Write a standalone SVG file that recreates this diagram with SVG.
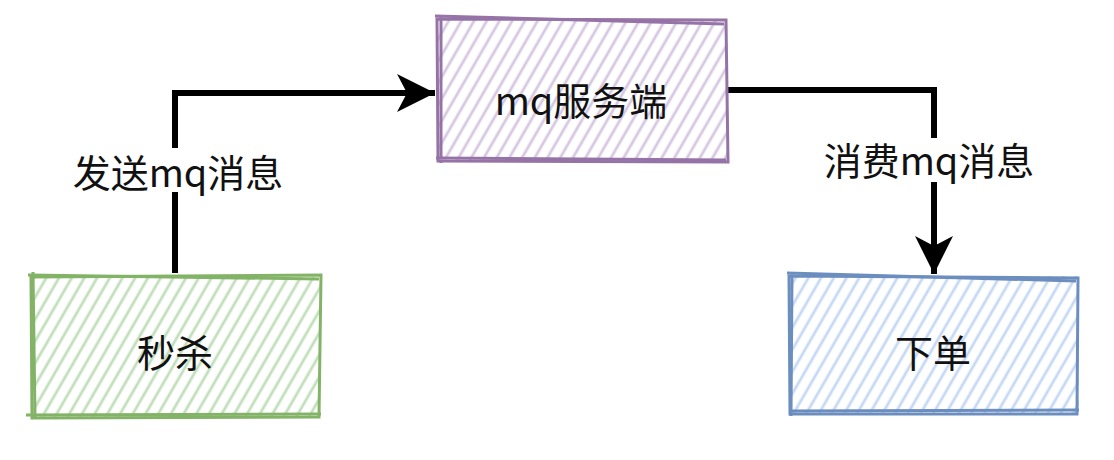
<svg xmlns="http://www.w3.org/2000/svg" width="1114" height="460" viewBox="0 0 1114 460">
<style>
.lbl{font-family:"Noto Sans CJK SC","Noto Sans",sans-serif;font-size:38px;fill:#111;text-anchor:middle;dominant-baseline:central}
.edge{fill:none;stroke:#000;stroke-width:6}
.gb{fill:none;stroke:#82b366;stroke-width:3}
.pb{fill:none;stroke:#9673a6;stroke-width:3}
.bb{fill:none;stroke:#6c8ebf;stroke-width:3}
</style>
<defs>
<pattern id="hg" width="11" height="11" patternUnits="userSpaceOnUse" patternTransform="rotate(30)"><line x1="3" y1="0" x2="3" y2="11" stroke="#c2dfbb" stroke-width="2.8"/></pattern>
<pattern id="hp" width="11" height="11" patternUnits="userSpaceOnUse" patternTransform="rotate(30)"><line x1="3" y1="0" x2="3" y2="11" stroke="#d6c8e1" stroke-width="2.8"/></pattern>
<pattern id="hb" width="11" height="11" patternUnits="userSpaceOnUse" patternTransform="rotate(30)"><line x1="3" y1="0" x2="3" y2="11" stroke="#c6d9f4" stroke-width="2.8"/></pattern>
<marker id="ah" viewBox="0 0 42 42" refX="40" refY="21" markerWidth="42" markerHeight="42" markerUnits="userSpaceOnUse" orient="auto"><path d="M40 21 L2 2 L12 21 L2 40 Z" fill="#000"/></marker>
</defs>
<g id="edges">
<path class="edge" d="M175 273 V93 H435" marker-end="url(#ah)"/>
<path class="edge" d="M727 90 H934 V274" marker-end="url(#ah)"/>
<rect x="70" y="148" width="215" height="44" fill="#fff"/>
<text class="lbl" x="178" y="170">发送mq消息</text>
<rect x="822" y="138" width="215" height="44" fill="#fff"/>
<text class="lbl" x="929" y="158">消费mq消息</text>
</g>
<g id="miaosha">
<rect x="31" y="277" width="289" height="140" fill="url(#hg)"/>
<path class="gb" d="M31 277 L321 275 L319 417 L32 418 Z"/>
<path class="gb" d="M28 275 L319 279 M33 272 L35 418 M26 415 L321 414" stroke-width="2"/>
<text class="lbl" x="175" y="350">秒杀</text>
</g>
<g id="mq">
<rect x="437" y="19" width="290" height="143" fill="url(#hp)"/>
<path class="pb" d="M437 19 L726 20 L728 162 L438 161 Z"/>
<path class="pb" d="M435 16 L724 24 M441 15 L441 163 M436 158 L726 160" stroke-width="2"/>
<text class="lbl" x="581" y="98">mq服务端</text>
</g>
<g id="xiadan">
<rect x="789" y="276" width="290" height="139" fill="url(#hb)"/>
<path class="bb" d="M789 276 L1078 278 L1077 414 L790 414 Z"/>
<path class="bb" d="M787 273 L1076 281 M792 272 L791 416 M789 411 L1079 410" stroke-width="2"/>
<text class="lbl" x="933" y="350">下单</text>
</g>
</svg>
